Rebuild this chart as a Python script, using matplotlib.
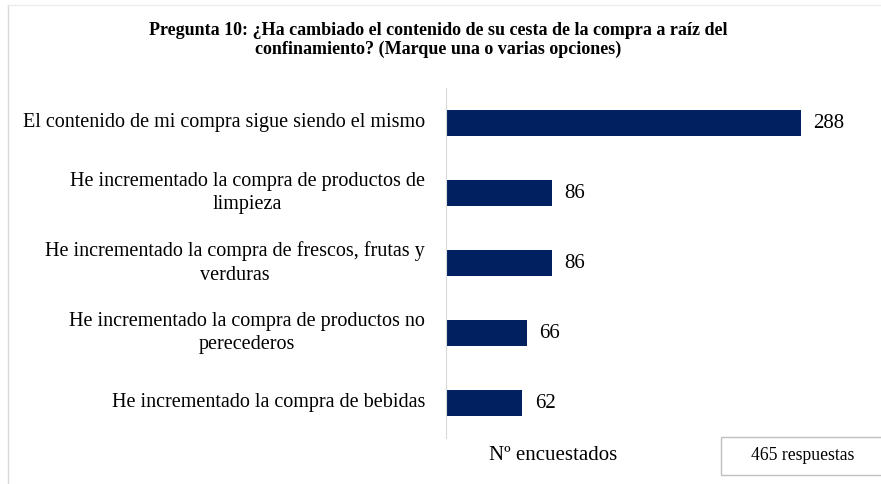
import matplotlib.pyplot as plt
from matplotlib.lines import Line2D
from matplotlib.patches import Rectangle

# datos
categorias = [
    "El contenido de mi compra sigue siendo el mismo",
    "He incrementado la compra de productos de\nlimpieza",
    "He incrementado la compra de frescos, frutas y\nverduras",
    "He incrementado la compra de productos no\nperecederos",
    "He incrementado la compra de bebidas",
]
valores = [288, 86, 86, 66, 62]
titulo = ("Pregunta 10: ¿Ha cambiado el contenido de su cesta de la compra a raíz del\n"
          "confinamiento? (Marque una o varias opciones)")
eje_x = "Nº encuestados"
nota = "465 respuestas"

plt.rcParams['font.family'] = ['Liberation Serif', 'DejaVu Serif']

W, H = 881, 484
fig = plt.figure(figsize=(W / 100, H / 100), dpi=100)

# marco gris exterior (solo lados izquierdo y superior visibles)
fig.add_artist(Line2D([8 / W, 8 / W], [0, 1 - 5 / H], color='#d9d9d9', lw=1))
fig.add_artist(Line2D([8 / W, 1], [1 - 5 / H, 1 - 5 / H], color='#ececec', lw=1))

ax = fig.add_axes([446 / W, 1 - 438 / H, 431 / W, 350 / H])
y = list(range(len(categorias)))
ax.barh(y, valores, height=0.37, color='#002060')
ax.set_ylim(len(categorias) - 0.5, -0.5)
ax.set_xlim(0, 350)

for yi, v in zip(y, valores):
    ax.text(v + 10, yi, str(v), va='center', ha='left', fontsize=15)

for yi, c in zip(y, categorias):
    ax.text(-17, yi, c, va='center', ha='right', multialignment='center',
            fontsize=14.5, linespacing=1.3)

ax.set_yticks([])
ax.set_xticks([])
for s in ['top', 'right', 'bottom']:
    ax.spines[s].set_visible(False)
ax.spines['left'].set_color('#d9d9d9')

fig.text(438 / W, 1 - 40 / H, titulo, ha='center', va='center', fontsize=13,
         fontweight='bold', linespacing=1.12)
fig.text(553 / W, 1 - 455 / H, eje_x, ha='center', va='center', fontsize=15)

fig.add_artist(Rectangle((721 / W, 1 - 475 / H), 200 / W, 38 / H,
                         transform=fig.transFigure, fill=False,
                         edgecolor='#bfbfbf', lw=1))
fig.text(803 / W, 1 - 456 / H, nota, ha='center', va='center', fontsize=12.7)

fig.savefig('out.png', dpi=100)
